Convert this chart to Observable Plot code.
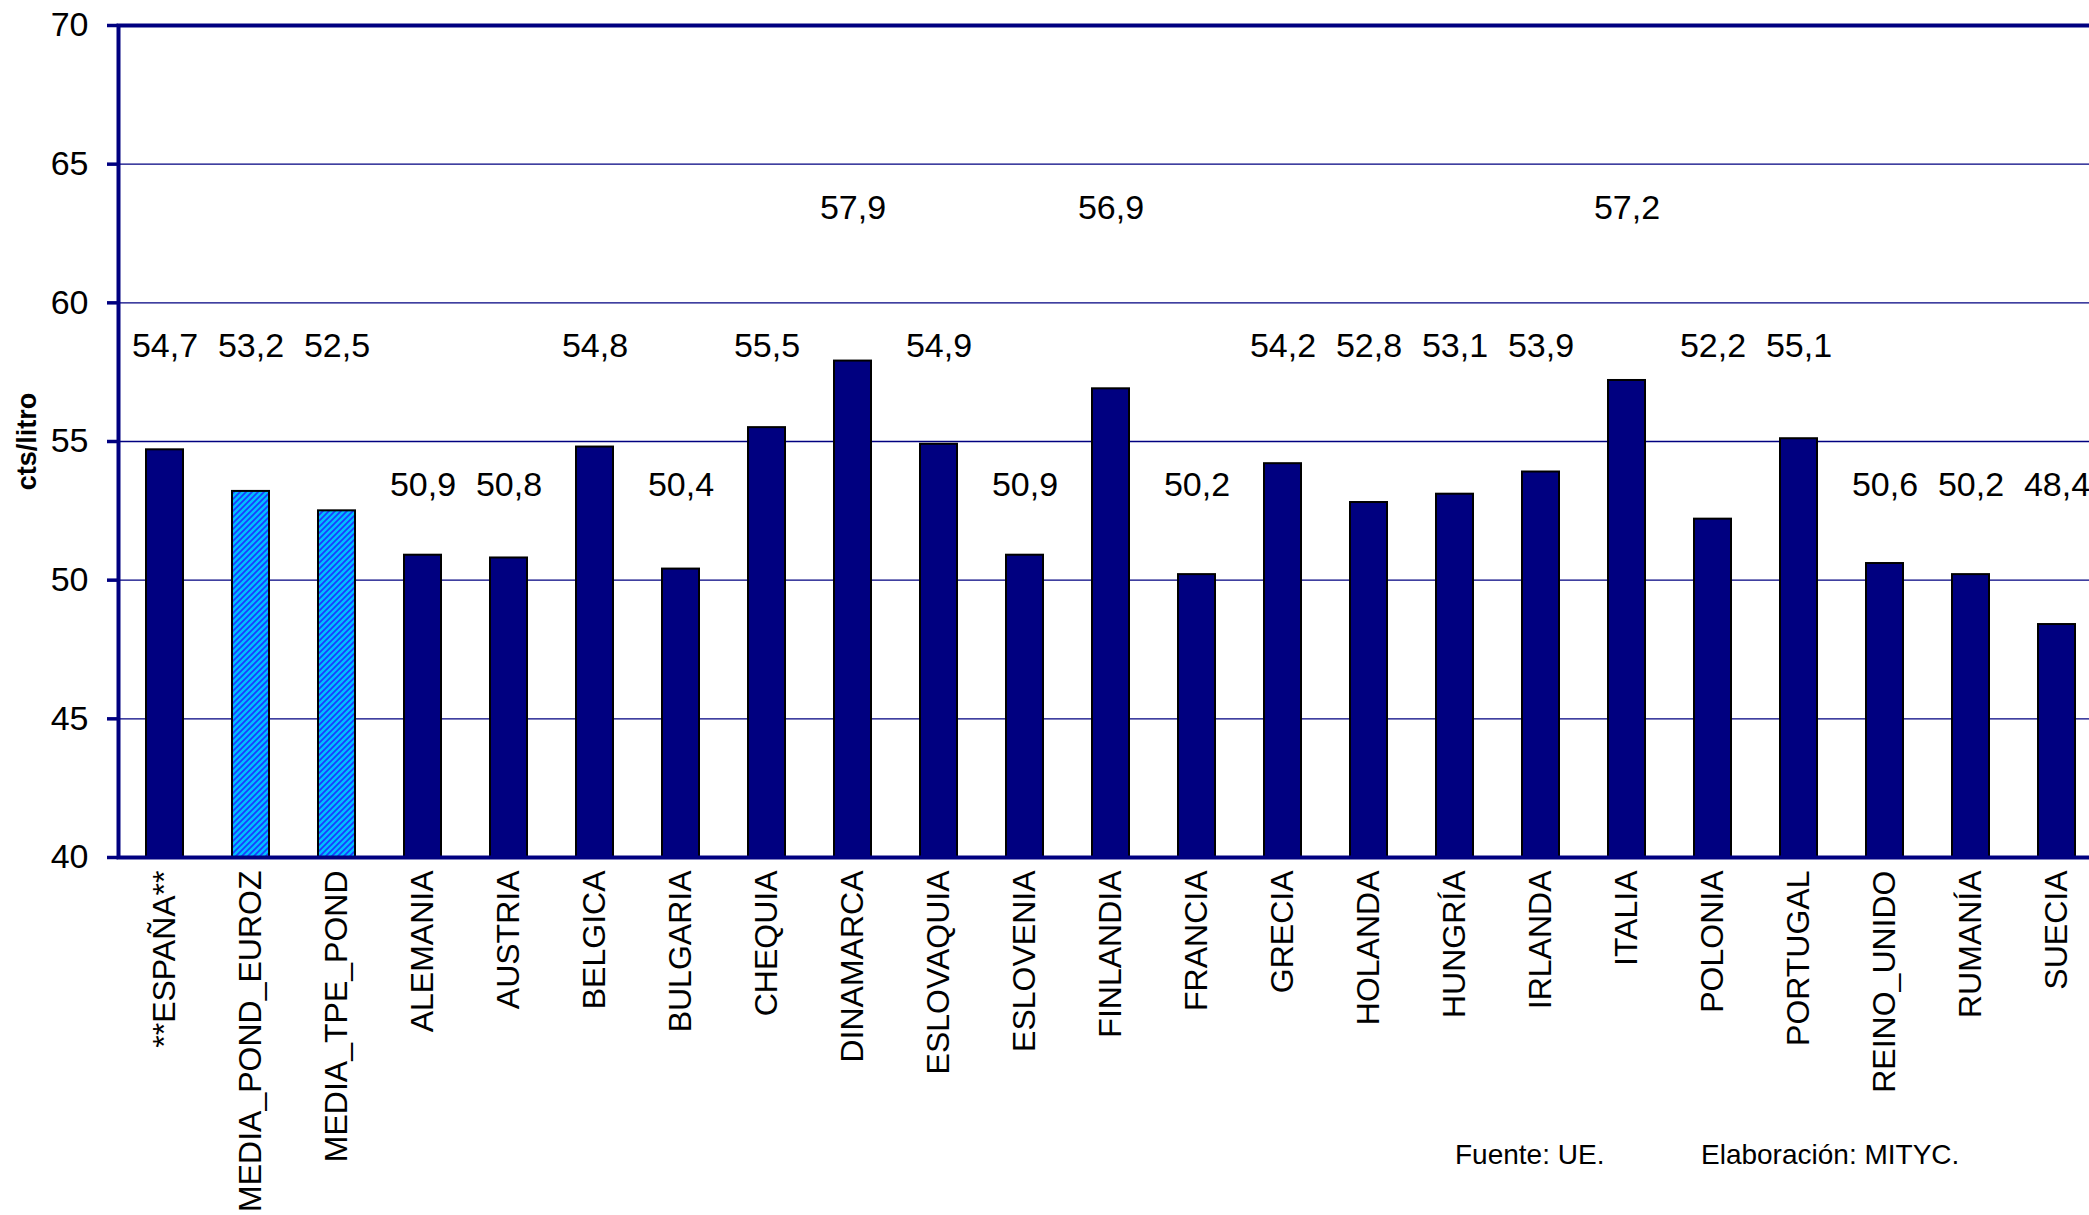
<!DOCTYPE html>
<html>
<head>
<meta charset="utf-8">
<script src="https://cdn.jsdelivr.net/npm/d3@7"></script>
<script src="https://cdn.jsdelivr.net/npm/@observablehq/plot@0.6"></script>
<style>
  html, body { margin: 0; padding: 0; background: #fff; overflow: hidden; }
  #wrap { position: relative; width: 2089px; height: 1215px; overflow: hidden; }
  #wrap svg { max-width: none !important; }
  .foot { position: absolute; font-family: "Liberation Sans", Arial, sans-serif; font-size: 28px; line-height: 32px; color: #000; white-space: nowrap; }
</style>
</head>
<body>
<div id="wrap"></div>
<script>
const categories = ["**ESPAÑA**","MEDIA_POND_EUROZ","MEDIA_TPE_POND","ALEMANIA","AUSTRIA","BELGICA","BULGARIA","CHEQUIA","DINAMARCA","ESLOVAQUIA","ESLOVENIA","FINLANDIA","FRANCIA","GRECIA","HOLANDA","HUNGRÍA","IRLANDA","ITALIA","POLONIA","PORTUGAL","REINO_UNIDO","RUMANÍA","SUECIA"];
const values = [54.7,53.2,52.5,50.9,50.8,54.8,50.4,55.5,57.9,54.9,50.9,56.9,50.2,54.2,52.8,53.1,53.9,57.2,52.2,55.1,50.6,50.2,48.4];
const hatched = ["MEDIA_POND_EUROZ","MEDIA_TPE_POND"];
const yTicks = [40,45,50,55,60,65,70];
const yLabel = "cts/litro";
const footLeft = "Fuente: UE.";
const footRight = "Elaboración: MITYC.";

const data = categories.map((c, i) => ({cat: c, v: values[i]}));
const fmt = v => v.toFixed(1).replace(".", ",");
// Excel-like label placement: labels snapped to rows above the bars
const labelY = v => 5 * Math.floor((v + 3.5) / 5) + 3.5;

const navy = "#000080";
const svg = Plot.plot({
  width: 2102,
  height: 1215,
  marginLeft: 118,
  marginRight: 0,
  marginTop: 25,
  marginBottom: 358,
  style: {fontFamily: "'Liberation Sans', Arial, sans-serif", background: "white", overflow: "visible", maxWidth: "none"},
  x: {type: "band", domain: categories, paddingInner: 0.57, paddingOuter: 0.285, align: 0.5},
  y: {domain: [40, 70]},
  marks: [
    Plot.ruleY([45, 50, 55, 60, 65], {stroke: navy, strokeWidth: 1.3}),
    Plot.barY(data.filter(d => !hatched.includes(d.cat)), {x: "cat", y1: 40, y2: "v", fill: navy, stroke: "black", strokeWidth: 2}),
    Plot.barY(data.filter(d => hatched.includes(d.cat)), {x: "cat", y1: 40, y2: "v", fill: "url(#hatch)", stroke: "black", strokeWidth: 2}),
    Plot.text(data, {x: "cat", y: d => labelY(d.v), text: d => fmt(d.v), fontSize: 34, fill: "black", dy: 2}),
    Plot.axisY({ticks: yTicks, tickSize: 11, tickPadding: 19, stroke: navy, strokeWidth: 3.5, fill: "black", fontSize: 34, label: null, tickFormat: d => String(d)}),
    Plot.axisX({tickRotate: -90, tickSize: 0, tickPadding: 13, fill: "black", fontSize: 32, label: null}),
    Plot.text([yLabel], {frameAnchor: "left", dx: -91, rotate: -90, textAnchor: "middle", lineAnchor: "middle", text: d => d, fontSize: 27, fontWeight: "bold", fill: "black"}),
    Plot.frame({stroke: navy, strokeWidth: 4})
  ]
});

const defs = d3.select(svg).insert("defs", ":first-child");
const pat = defs.append("pattern")
  .attr("id", "hatch")
  .attr("patternUnits", "userSpaceOnUse")
  .attr("width", 6).attr("height", 6);
pat.append("rect").attr("width", 6).attr("height", 6).attr("fill", "#00bfff");
pat.append("path").attr("d", "M0,6 L6,0 M-1,1 L1,-1 M5,7 L7,5")
  .attr("stroke", "#1a3cff").attr("stroke-width", 1.8);

const wrap = document.getElementById("wrap");
wrap.appendChild(svg);
const f1 = document.createElement("div");
f1.className = "foot"; f1.textContent = footLeft;
f1.style.left = "1455px"; f1.style.top = "1139px";
const f2 = document.createElement("div");
f2.className = "foot"; f2.textContent = footRight;
f2.style.left = "1701px"; f2.style.top = "1139px";
wrap.appendChild(f1); wrap.appendChild(f2);
</script>
</body>
</html>
